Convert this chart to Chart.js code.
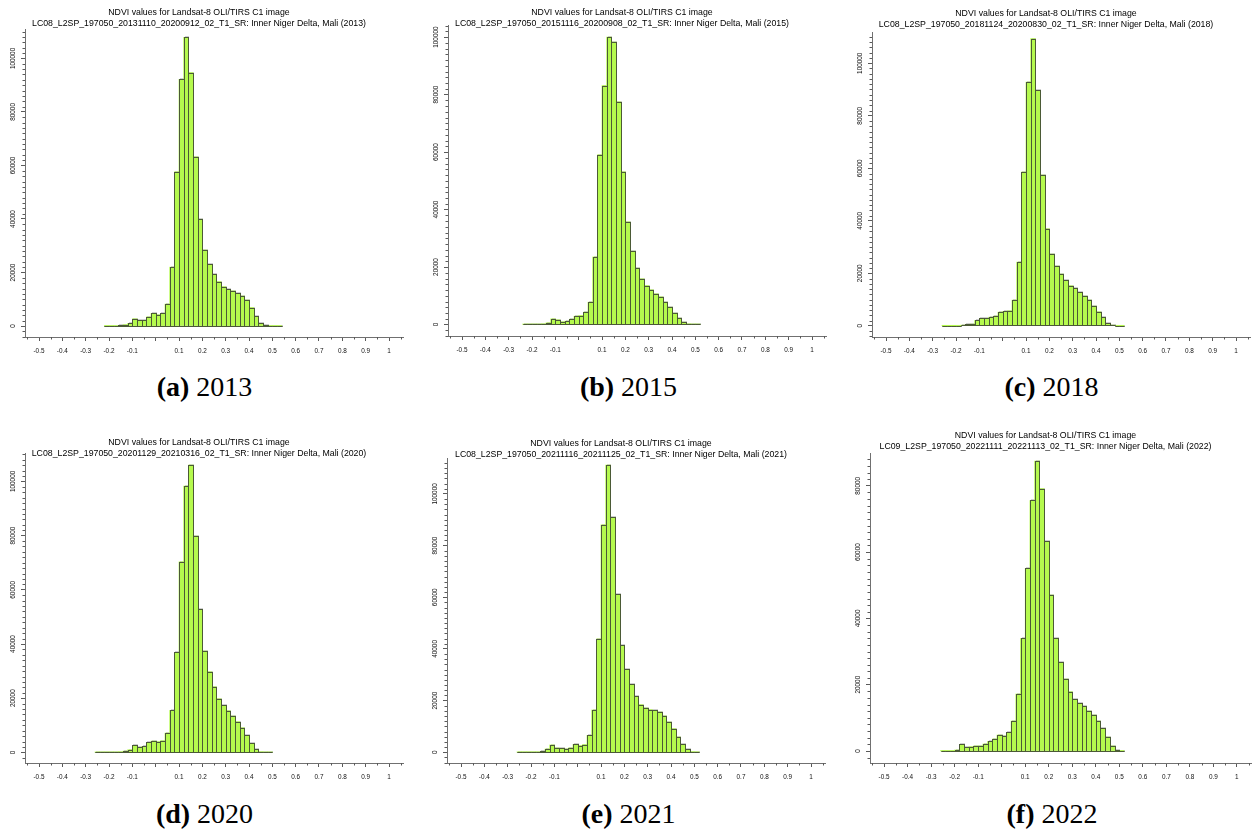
<!DOCTYPE html>
<html>
<head>
<meta charset="utf-8">
<script src="https://cdn.jsdelivr.net/npm/chart.js@4.4.1/dist/chart.umd.min.js"></script>
<style>
html,body{margin:0;padding:0;background:#fff;overflow:hidden;width:1252px;height:832px;}
.panel{position:absolute;}
.cap{position:absolute;font-family:"Liberation Serif","Times New Roman",serif;font-size:28px;line-height:28px;color:#000;transform:translateX(-50%);white-space:nowrap;}
.cap b{font-weight:bold;}
</style>
</head>
<body>
<script>
// ---------- DATA ----------
// histogram bin centres (bin width 0.02), shared by all panels
const binCenters = [-0.25,-0.23,-0.21,-0.19,-0.17,-0.15,-0.13,-0.11,-0.09,-0.07,
                    -0.05,-0.03,-0.01,0.01,0.03,0.05,0.07,0.09,0.11,0.13,
                    0.15,0.17,0.19,0.21,0.23,0.25,0.27,0.29,0.31,0.33,
                    0.35,0.37,0.39,0.41,0.43,0.45,0.47,0.49,0.51,0.53];

const ndvi2013 = [null,null,40,80,150,250,500,1000,2700,2100,
                  2100,3400,4700,4200,4700,8200,22000,57600,92200,107900,
                  94700,63200,39900,28400,23000,19300,16600,14700,13700,13100,
                  12200,11200,9700,6900,3600,1000,250,80,30,20];
const ndvi2015 = [null,20,40,60,80,230,580,1970,1620,930,
                  1160,1850,2900,3130,4290,7770,23500,59000,83100,100000,
                  98300,77500,53100,35700,25500,19600,15900,13560,12050,10660,
                  9620,7770,6030,3940,2200,810,230,80,30,null];
const ndvi2018 = [10,20,50,100,250,510,635,2030,2790,2790,
                  3300,3680,5200,5460,5715,9780,24260,58550,92840,109350,
                  89660,57400,36960,27300,22730,19690,17270,15240,14220,12700,
                  11300,9780,7490,5330,3175,890,250,80,30,null];
const ndvi2020 = [10,20,40,60,100,250,490,980,2580,1850,
                  2210,3690,4180,3940,4300,7130,15500,36900,70360,98280,
                  106000,79800,52770,37400,29770,24230,19800,17340,15380,13400,
                  11320,9100,6270,3320,1110,250,60,20,null,null];
const ndvi2021 = [10,20,40,80,150,390,1290,2840,1680,1550,
                  1290,1680,3100,2580,2970,6580,16380,43860,88000,111200,
                  90900,61150,41400,32100,26300,21670,18450,17160,16500,16250,
                  15600,14060,11740,9160,5930,3100,1160,260,60,null];
const ndvi2022 = [10,20,50,300,2010,1100,1310,1510,1510,2110,
                  2910,3620,4820,4520,5630,9045,17190,33970,55070,75580,
                  87440,79190,63210,47030,33970,26730,21710,17890,15580,14370,
                  13470,12060,10850,9045,6830,4220,1510,200,40,null];

const xTickValues = [-0.5,-0.4,-0.3,-0.2,-0.1,0,0.1,0.2,0.3,0.4,0.5,0.6,0.7,0.8,0.9,1];
const xTickLabels = ['-0.5','-0.4','-0.3','-0.2','-0.1','','0.1','0.2','0.3','0.4','0.5','0.6','0.7','0.8','0.9','1'];
const yTicks100k = [0,20000,40000,60000,80000,100000];
const yTicks80k  = [0,20000,40000,60000,80000];

const titleLine1 = 'NDVI values for Landsat-8 OLI/TIRS C1 image';
const scene2013 = 'LC08_L2SP_197050_20131110_20200912_02_T1_SR: Inner Niger Delta, Mali (2013)';
const scene2015 = 'LC08_L2SP_197050_20151116_20200908_02_T1_SR: Inner Niger Delta, Mali (2015)';
const scene2018 = 'LC08_L2SP_197050_20181124_20200830_02_T1_SR: Inner Niger Delta, Mali (2018)';
const scene2020 = 'LC08_L2SP_197050_20201129_20210316_02_T1_SR: Inner Niger Delta, Mali (2020)';
const scene2021 = 'LC08_L2SP_197050_20211116_20211125_02_T1_SR: Inner Niger Delta, Mali (2021)';
const scene2022 = 'LC09_L2SP_197050_20221111_20221113_02_T1_SR: Inner Niger Delta, Mali (2022)';

// ---------- LAYOUT / STYLE ----------
const FONT = "'Liberation Sans', Arial, sans-serif";
const TICK_SIZE = 6.4;
const TITLE_SIZE = 8.75;
const BAR_FILL = '#b5fa4e';
const BAR_EDGE = '#4b5a36';
const AXIS_COL = '#707070';
const TICK_COL = '#5a5a5a';
const Y_W = 30, X_H = 25, R_PAD = 30;

const panels = [
  {counts: ndvi2013, scene: scene2013, yTicks: yTicks100k, area: [25, 403, 29, 337],  yRange: [-4100, 111000], canvasTop: 5,   label: '(a)', year: '2013', capX: 204.5, capTop: 373},
  {counts: ndvi2015, scene: scene2015, yTicks: yTicks100k, area: [448, 826, 25, 336], yRange: [-4000, 104200], canvasTop: 5,   label: '(b)', year: '2015', capX: 628.5, capTop: 373},
  {counts: ndvi2018, scene: scene2018, yTicks: yTicks100k, area: [872, 1250, 32, 337], yRange: [-4270, 111900], canvasTop: 6,  label: '(c)', year: '2018', capX: 1051.5, capTop: 373},
  {counts: ndvi2020, scene: scene2020, yTicks: yTicks100k, area: [25, 403, 453, 763],  yRange: [-3910, 110480], canvasTop: 435, label: '(d)', year: '2020', capX: 204.5, capTop: 800},
  {counts: ndvi2021, scene: scene2021, yTicks: yTicks100k, area: [447, 825, 458, 763], yRange: [-4140, 113900], canvasTop: 436, label: '(e)', year: '2021', capX: 628.5, capTop: 800},
  {counts: ndvi2022, scene: scene2022, yTicks: yTicks80k,  area: [870, 1251, 453, 763], yRange: [-3620, 89900], canvasTop: 428,  label: '(f)', year: '2022', capX: 1052, capTop: 800}
];

function barRect(bar) {
  const p = bar.getProps(['x', 'y', 'base', 'width'], true);
  const l = Math.round(p.x - p.width / 2), r = Math.round(p.x + p.width / 2);
  return {l, r, t: Math.round(p.y), b: Math.round(p.base)};
}

const histStyle = {
  id: 'histStyle',
  beforeDatasetsDraw(chart) {
    const ctx = chart.ctx;
    ctx.save();
    ctx.fillStyle = '#cfcfcf';
    chart.getDatasetMeta(0).data.forEach(bar => {
      const q = barRect(bar);
      ctx.fillRect(q.l + 1, q.t - 1, q.r - q.l, Math.max(q.b - q.t, 0) + 1);
    });
    ctx.restore();
  },
  afterDatasetsDraw(chart) {
    const ctx = chart.ctx;
    ctx.save();
    ctx.strokeStyle = BAR_EDGE;
    ctx.lineWidth = 1;
    chart.getDatasetMeta(0).data.forEach(bar => {
      const q = barRect(bar);
      ctx.strokeRect(q.l + 0.5, q.t + 0.5, q.r - q.l, Math.max(q.b - q.t, 0));
    });
    ctx.restore();
  },
  afterDraw(chart) {
    const ctx = chart.ctx, xs = chart.scales.x, ys = chart.scales.y;
    ctx.save();
    ctx.strokeStyle = TICK_COL;
    ctx.lineWidth = 1;
    ctx.beginPath();
    const top = Math.round(xs.top);
    for (let k = -11; k <= 21; k += 2) {
      const v = k * 0.05;
      if (v < xs.min || v > xs.max) continue;
      const px = Math.round(xs.getPixelForValue(v)) + 0.5;
      ctx.moveTo(px, top);
      ctx.lineTo(px, top + 2.5);
    }
    const right = Math.round(ys.right);
    for (let v = Math.ceil(ys.min / 2000) * 2000; v <= ys.max; v += 2000) {
      if (v % 20000 === 0) continue;
      const py = Math.round(ys.getPixelForValue(v)) + 0.5;
      ctx.moveTo(right, py);
      ctx.lineTo(right - 2.5, py);
    }
    ctx.stroke();
    ctx.restore();
  }
};

const measureCtx = document.createElement('canvas').getContext('2d');
measureCtx.font = TICK_SIZE + 'px ' + FONT;

panels.forEach(p => {
  const [aL, aR, aT, aB] = p.area;
  const cLeft = aL - Y_W, cTop = p.canvasTop;
  const w = (aR - aL) + Y_W + R_PAD, h = (aB - cTop) + X_H;
  const div = document.createElement('div');
  div.className = 'panel';
  div.style.left = cLeft + 'px';
  div.style.top = cTop + 'px';
  div.style.width = w + 'px';
  div.style.height = h + 'px';
  const cv = document.createElement('canvas');
  div.appendChild(cv);
  document.body.appendChild(div);

  const points = [];
  binCenters.forEach((c, i) => { if (p.counts[i] !== null) points.push({x: c, y: p.counts[i]}); });

  const widest = Math.max(...p.yTicks.map(v => measureCtx.measureText(String(v)).width));
  const yPad = 12 - 4 - widest / 2;
  const titleBottom = aT - cTop - 24;

  new Chart(cv, {
    type: 'bar',
    data: {datasets: [{data: points, backgroundColor: BAR_FILL, borderWidth: 0, barPercentage: 1, categoryPercentage: 1}]},
    options: {
      responsive: true, maintainAspectRatio: false, animation: false, events: [], devicePixelRatio: 1,
      layout: {padding: {left: 0, right: R_PAD, top: 0, bottom: 0}},
      plugins: {
        legend: {display: false}, tooltip: {enabled: false},
        title: {display: true, text: [titleLine1, p.scene], color: '#000',
                font: {family: FONT, size: TITLE_SIZE, weight: 'normal', lineHeight: 11 / TITLE_SIZE},
                padding: {top: 2, bottom: titleBottom}}
      },
      scales: {
        x: {
          type: 'linear', min: -0.56, max: 1.06, offset: false,
          afterBuildTicks: s => { s.ticks = xTickValues.map(v => ({value: v})); },
          afterFit: s => { s.height = X_H; },
          ticks: {autoSkip: false, maxRotation: 0, minRotation: 0, padding: 6.6, color: '#111',
                  font: {family: FONT, size: TICK_SIZE}, callback: (v, i) => xTickLabels[i]},
          grid: {drawOnChartArea: false, drawTicks: true, tickLength: 4, tickColor: TICK_COL, offset: false},
          border: {display: true, color: AXIS_COL, width: 1}
        },
        y: {
          type: 'linear', min: p.yRange[0], max: p.yRange[1],
          afterBuildTicks: s => { s.ticks = p.yTicks.map(v => ({value: v})); },
          afterFit: s => { s.width = Y_W; },
          ticks: {minRotation: 90, maxRotation: 90, crossAlign: 'center', padding: yPad, color: '#111',
                  font: {family: FONT, size: TICK_SIZE}, callback: v => String(v)},
          grid: {drawOnChartArea: false, drawTicks: true, tickLength: 4, tickColor: TICK_COL},
          border: {display: true, color: AXIS_COL, width: 1}
        }
      }
    },
    plugins: [histStyle]
  });

  const cap = document.createElement('div');
  cap.className = 'cap';
  cap.style.left = p.capX + 'px';
  cap.style.top = p.capTop + 'px';
  cap.innerHTML = '<b>' + p.label + '</b> ' + p.year;
  document.body.appendChild(cap);
});
</script>
</body>
</html>
